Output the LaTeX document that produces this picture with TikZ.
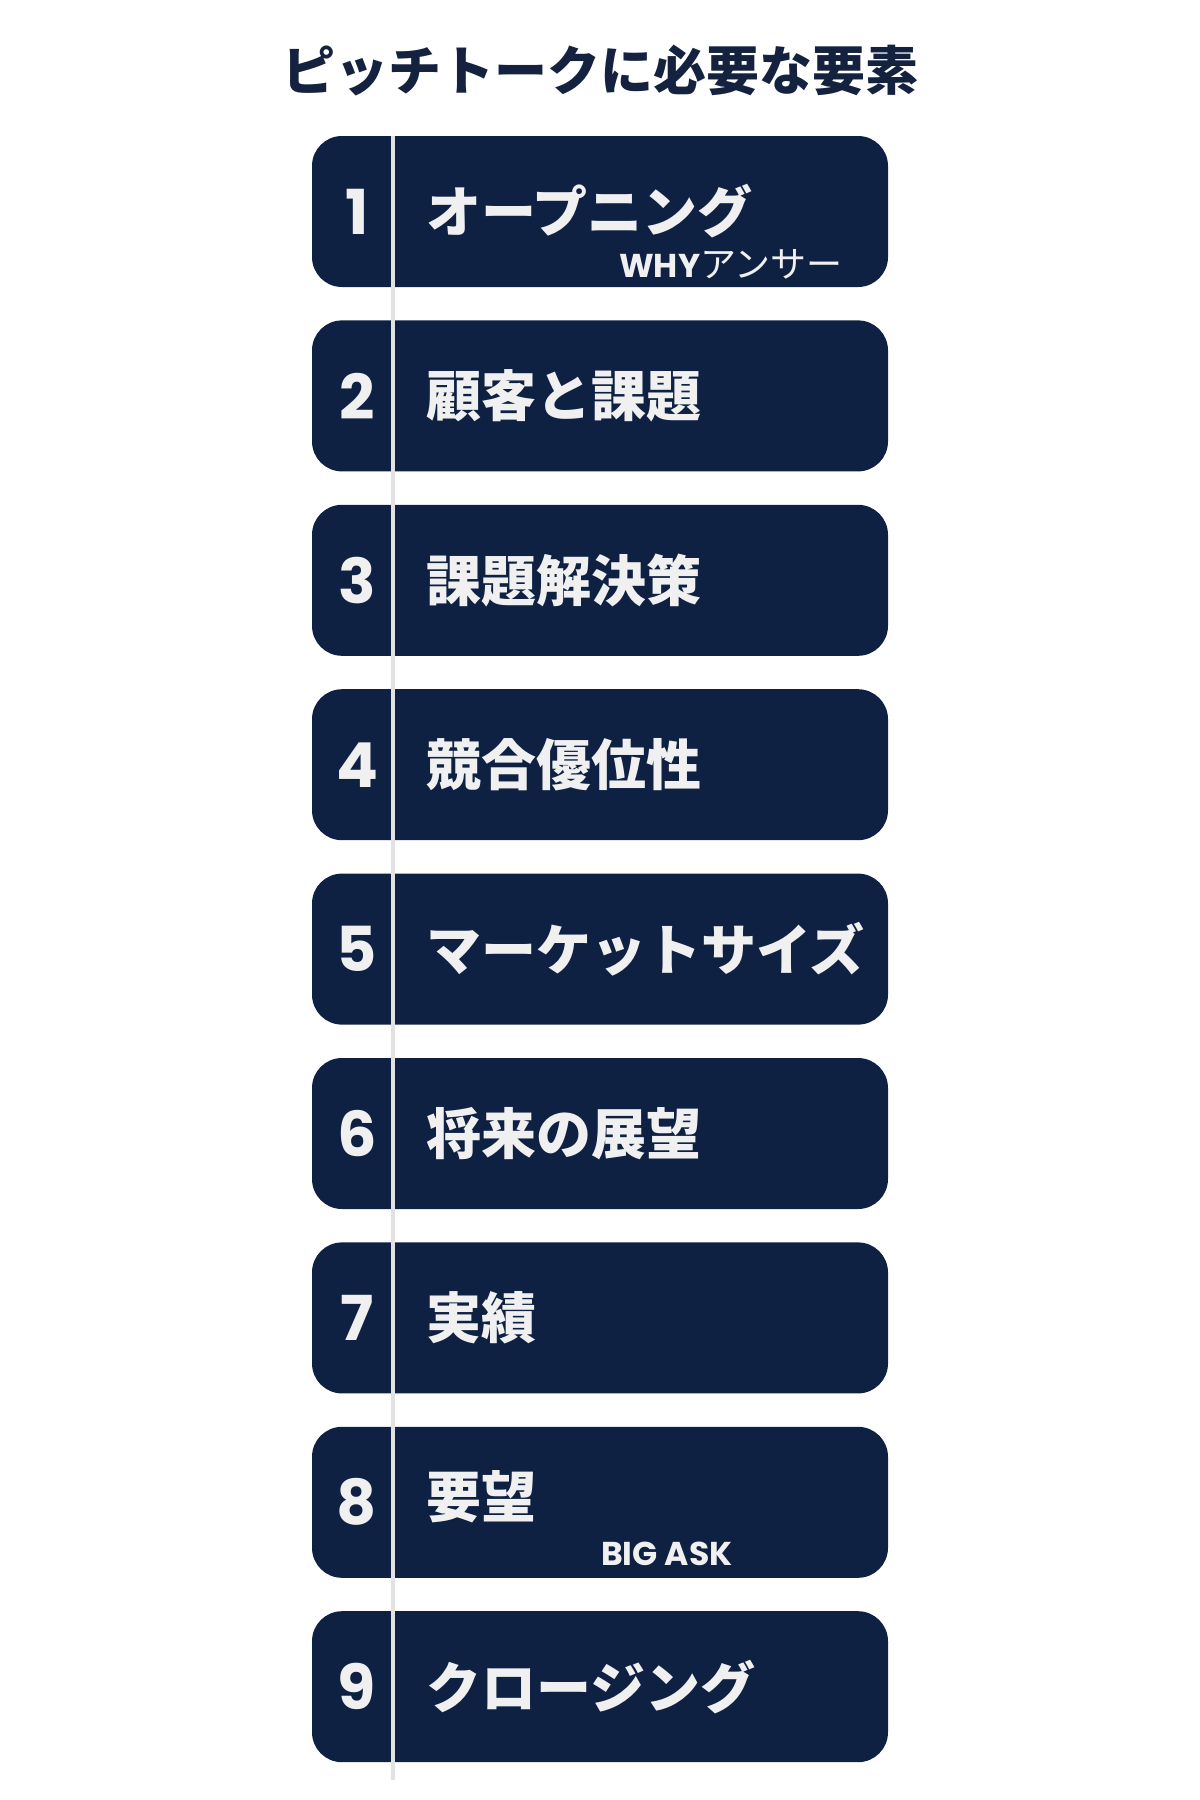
\documentclass[tikz,border=0pt]{standalone}
\usepackage{fontspec}
\newfontfamily\jpfont{Noto Sans CJK JP}
\newfontfamily\latinfont{Poppins}
\definecolor{pitchnavy}{HTML}{0F2143}
\definecolor{titlenavy}{HTML}{14223F}
\definecolor{paper}{HTML}{F0F0F0}
\definecolor{railgrey}{HTML}{E2E2E2}
\usetikzlibrary{positioning}

\begin{document}
\begin{tikzpicture}[x=1pt, y=-1pt,
  itembox/.style={fill=pitchnavy, rounded corners=30pt, minimum width=576pt, minimum height=151pt, inner sep=0pt},
  numlabel/.style={text=paper, inner sep=0pt, font=\latinfont\bfseries\fontsize{62}{62}\selectfont},
  itemlabel/.style={anchor=west, inner sep=0pt, text=paper, font=\jpfont\bfseries\fontsize{55}{55}\selectfont},
  sublabel/.style={anchor=west, inner sep=0pt, text=paper, font=\fontsize{33}{33}\selectfont},
  rail/.style={draw=railgrey, line width=4pt}]
  \fill[white] (0,0) rectangle (1200,1800);
  \useasboundingbox (0,0) rectangle (1200,1800);

  \node[font=\jpfont\bfseries\fontsize{53}{53}\selectfont, text=titlenavy] (title) at (600,71) {ピッチトークに必要な要素};

  % boxes
  \node[itembox] (box1) at (600,211.5) {};
  \node[itembox] (box2) at (600,395.9) {};
  \node[itembox] (box3) at (600,580.3) {};
  \node[itembox] (box4) at (600,764.7) {};
  \node[itembox] (box5) at (600,949.1) {};
  \node[itembox] (box6) at (600,1133.5) {};
  \node[itembox] (box7) at (600,1317.9) {};
  \node[itembox] (box8) at (600,1502.3) {};
  \node[itembox] (box9) at (600,1686.7) {};

  % divider running down through the boxes
  \coordinate (railtop) at (393,136);
  \coordinate (railend) at (393,1780);
  \draw[rail] (railtop) -- (railend);

  % numbers
  \node[numlabel] (num1) at (357,211.5) {1};
  \node[numlabel] (num2) at (357,395.9) {2};
  \node[numlabel] (num3) at (357,580.3) {3};
  \node[numlabel] (num4) at (357,764.7) {4};
  \node[numlabel] (num5) at (357,949.1) {5};
  \node[numlabel] (num6) at (357,1133.5) {6};
  \node[numlabel] (num7) at (357,1317.9) {7};
  \node[numlabel] (num8) at (357,1502.3) {8};
  \node[numlabel] (num9) at (357,1686.7) {9};

  % labels
  \node[itemlabel] (opening) at (426,211.5) {オープニング};
  \node[itemlabel] (customer) at (426,395.9) {顧客と課題};
  \node[itemlabel] (solution) at (426,580.3) {課題解決策};
  \node[itemlabel] (advantage) at (426,764.7) {競合優位性};
  \node[itemlabel] (market) at (426,949.1) {マーケットサイズ};
  \node[itemlabel] (future) at (426,1133.5) {将来の展望};
  \node[itemlabel] (record) at (426,1317.9) {実績};
  \node[itemlabel] (request) at (426,1497) {要望};
  \node[itemlabel] (closing) at (426,1686.7) {クロージング};

  \node[sublabel] (whyanswer) at (619,264) {{\latinfont\bfseries WHY}{\jpfont\fontsize{36}{36}\selectfont アンサー}};
  \node[sublabel] (bigask) at (601,1554) {\latinfont\bfseries BIG ASK};
\end{tikzpicture}
\end{document}
